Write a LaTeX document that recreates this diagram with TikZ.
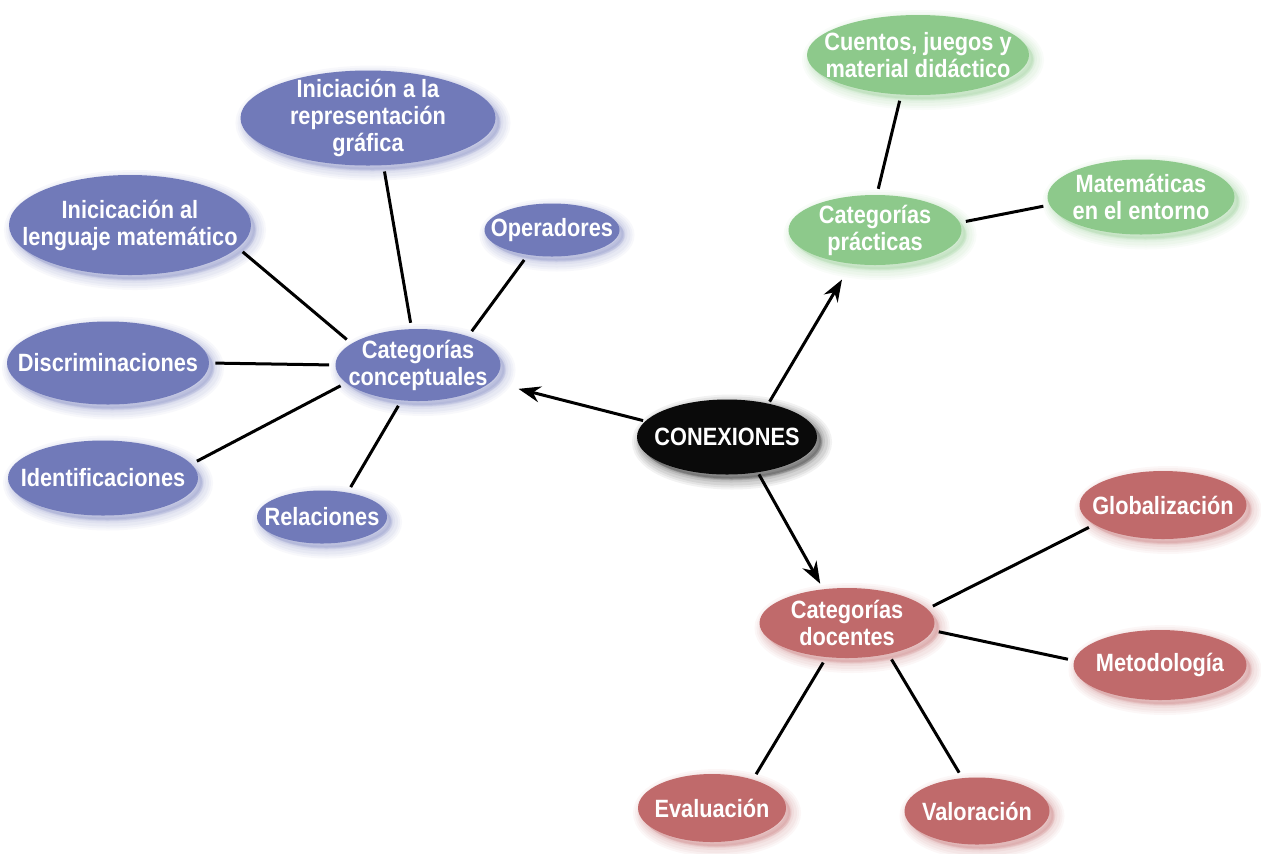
\documentclass[tikz,border=0pt]{standalone}
\usepackage{fontspec}
\setmainfont{Liberation Sans}[FakeStretch=0.87]
\usetikzlibrary{positioning}
\usetikzlibrary{shapes.geometric}
\usetikzlibrary{arrows.meta}
\definecolor{conceptblue}{RGB}{113,122,185}
\definecolor{practgreen}{RGB}{141,201,139}
\definecolor{docred}{RGB}{192,106,107}
\definecolor{conexblack}{RGB}{10,10,10}

\begin{document}
\begin{tikzpicture}[x=0.5pt,y=-0.5pt]
		\tikzset{
			halo/.style={
				preaction={fill=#1,draw=#1,line width=10pt,opacity=0.05,transform canvas={xshift=2.5pt,yshift=-2.5pt}},
				preaction={fill=#1,draw=#1,line width=8pt,opacity=0.06,transform canvas={xshift=2.5pt,yshift=-2.5pt}},
				preaction={fill=#1,draw=#1,line width=6pt,opacity=0.07,transform canvas={xshift=2.5pt,yshift=-2.5pt}},
				preaction={fill=#1,draw=#1,line width=4pt,opacity=0.08,transform canvas={xshift=2pt,yshift=-2pt}},
				preaction={fill=#1,draw=#1,line width=2pt,opacity=0.10,transform canvas={xshift=2pt,yshift=-2pt}}},
			catnode/.style={ellipse,inner xsep=-40pt,inner ysep=-20pt,text=white,align=center,
				font=\fontsize{12.5}{13.5}\selectfont\bfseries},
			dims/.style 2 args={minimum width=#1*0.5pt,minimum height=#2*0.5pt},
			bluenode/.style={catnode,fill=conceptblue,halo=conceptblue},
			greennode/.style={catnode,fill=practgreen,halo=practgreen},
			rednode/.style={catnode,fill=docred,halo=docred},
			blacknode/.style={catnode,fill=conexblack,halo=black},
		}
		\tikzset{
			edge/.style={color=black,line width=1.5pt,shorten <=3pt,shorten >=3pt},
			arrow/.style={color=black,line width=1.5pt,-{Stealth[length=11pt,width=8pt]}},
		}
		\useasboundingbox (0,0) rectangle (1261,853);
		
		\node[blacknode,dims={180}{75}] (conex) at (727,437) {CONEXIONES};
		
		\node[bluenode,dims={165}{72}] (conc) at (418,365) {Categorías\\conceptuales};
		\node[bluenode,dims={255}{95}] (repr) at (368,118) {Iniciación a la\\representación\\gráfica};
		\node[bluenode,dims={242}{100}] (leng) at (130,225) {Inicicación al\\lenguaje matemático};
		\node[bluenode,dims={135}{53}] (oper) at (552,230) {Operadores};
		\node[bluenode,dims={202}{83}] (disc) at (108,363) {Discriminaciones};
		\node[bluenode,dims={190}{75}] (iden) at (103,478) {Identificaciones};
		\node[bluenode,dims={130}{53}] (rel) at (322,517) {Relaciones};
		
		\node[greennode,dims={173}{70}] (prac) at (875,230) {Categorías\\prácticas};
		\node[greennode,dims={222}{80}] (cuen) at (918,55) {Cuentos, juegos y\\material didáctico};
		\node[greennode,dims={187}{75}] (mat) at (1141,197) {Matemáticas\\en el entorno};
		
		\node[rednode,dims={175}{70}] (doc) at (847,623) {Categorías\\docentes};
		\node[rednode,dims={167}{68}] (glob) at (1163,505) {Globalización};
		\node[rednode,dims={173}{70}] (met) at (1160,665) {Metodología};
		\node[rednode,dims={148}{68}] (eval) at (712,808) {Evaluación};
		\node[rednode,dims={145}{67}] (val) at (977,811) {Valoración};
		
		\draw[edge] (repr.-72) to (conc.100);
		\draw[edge] (leng.-12) to (conc.162);
		\draw[edge] (oper.-134) to (conc.30);
		\draw[edge] (disc.0) to (conc.180);
		\draw[edge] (iden.9) to (conc.-166);
		\draw[edge] (rel.44) to (conc.-115);
		
		\draw[arrow,shorten <=1pt,shorten >=14pt] (conex.169) to (conc.-13);
		\draw[arrow,shorten <=1pt,shorten >=9pt] (conex.39) to (prac.-125);
		\draw[arrow,shorten <=1pt,shorten >=3pt] (conex.-49) to (doc.125);
		
		\draw[edge] (cuen.-113) to (prac.87);
		\draw[edge] (mat.-175) to (prac.5);
		
		\draw[edge] (glob.-164) to (doc.10);
		\draw[edge] (met.177) to (doc.-5);
		\draw[edge] (eval.35) to (doc.-121);
		\draw[edge] (val.114) to (doc.-37);
	\end{tikzpicture}
\end{document}
